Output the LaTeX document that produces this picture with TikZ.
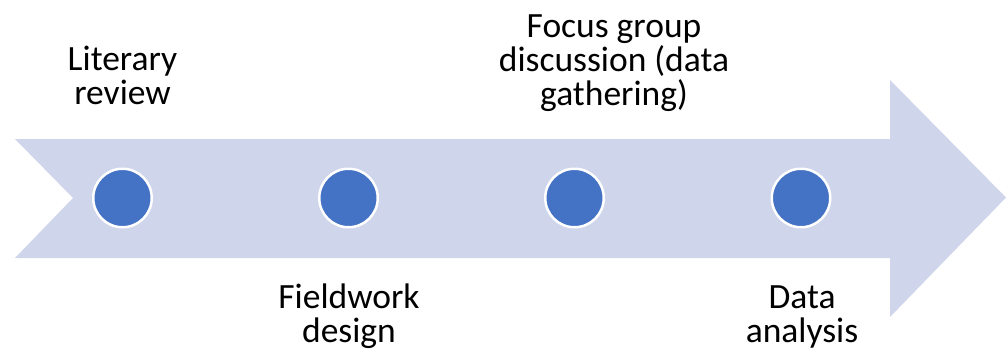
\documentclass[tikz,border=0pt]{standalone}
\usepackage{fontspec}
\setmainfont{Carlito}
\definecolor{arrowfill}{HTML}{CFD5EA}
\definecolor{dotfill}{HTML}{4472C4}
\begin{document}
\begin{tikzpicture}[x=1pt,y=-1pt,
  dot/.style={circle,fill=dotfill,draw=white,line width=2.5pt,minimum size=58.5pt,inner sep=0pt},
  lbl/.style={align=center,inner sep=0pt,anchor=base,font=\fontsize{35.5}{34}\selectfont}]
\useasboundingbox (0,0) rectangle (1006,351);
\fill[arrowfill] (15,139) -- (890,139) -- (890,80) -- (1006,197.5) -- (890,317) -- (890,258) -- (15,258) -- (73,198) -- cycle;
\node[dot] (c1) at (122.5,198) {};
\node[dot] (c2) at (348.5,198) {};
\node[dot] (c3) at (574.5,198) {};
\node[dot] (c4) at (801,198) {};
\node[lbl] (t1) at (122.5,104) {Literary\\review};
\node[lbl] (t2) at (349,342) {Fieldwork\\design};
\node[lbl] (t3) at (614,105) {Focus group\\discussion (data\\gathering)};
\node[lbl] (t4) at (802,342) {Data\\analysis};
\end{tikzpicture}
\end{document}
